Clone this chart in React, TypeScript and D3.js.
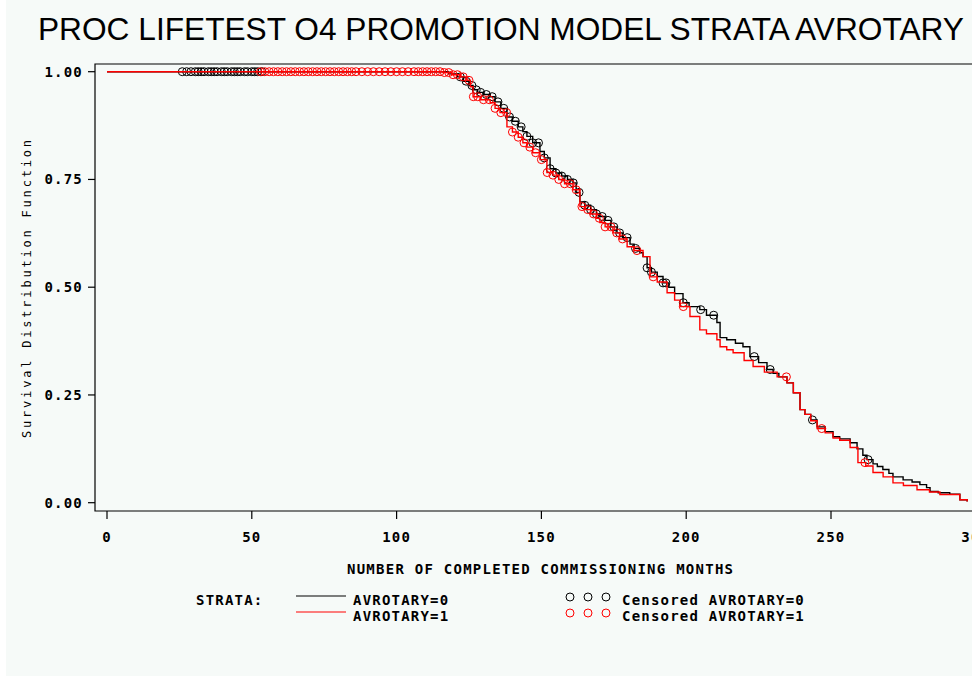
import React from "react";
import * as d3 from "d3";

const TITLE = "PROC LIFETEST O4 PROMOTION MODEL STRATA AVROTARY";
const X_LABEL = "NUMBER OF COMPLETED COMMISSIONING MONTHS";
const Y_LABEL = "Survival Distribution Function";
const X_TICKS = [0, 50, 100, 150, 200, 250, 300];
const Y_TICKS = [0, 0.25, 0.5, 0.75, 1.0];

// Kaplan-Meier step knots (time, survival after step), AVROTARY=0
const blackTimes = [0, 118, 121, 123, 125, 126.4, 128, 130, 132.3, 134, 136, 138.1, 140, 142, 143.6, 145, 147, 149.5, 151, 153, 155, 157, 159, 160.9, 162, 163.3, 165, 167, 169, 170.2, 172, 174, 176.1, 178, 180.6, 182, 184, 185.1, 186.5, 188, 190, 192, 194, 196, 198.9, 201, 204.7, 207, 210.6, 211.7, 214, 217, 219.6, 222, 225, 227.9, 230, 232, 234.8, 237, 239.3, 241, 243, 245.2, 248, 250.7, 253, 256.6, 259, 261, 262.4, 264.5, 266, 267.9, 270, 271.4, 274.9, 278, 280.7, 283, 284.2, 287, 291, 294.5, 297];
const blackSurv = [1.0, 0.995, 0.988, 0.978, 0.968, 0.958, 0.952, 0.947, 0.942, 0.93, 0.915, 0.895, 0.885, 0.872, 0.861, 0.85, 0.835, 0.815, 0.8, 0.775, 0.765, 0.758, 0.75, 0.742, 0.72, 0.698, 0.69, 0.68, 0.67, 0.664, 0.655, 0.64, 0.626, 0.615, 0.6, 0.59, 0.58, 0.571, 0.545, 0.535, 0.525, 0.51, 0.5, 0.485, 0.464, 0.455, 0.448, 0.435, 0.418, 0.383, 0.378, 0.37, 0.362, 0.339, 0.325, 0.309, 0.3, 0.292, 0.278, 0.255, 0.216, 0.205, 0.192, 0.176, 0.165, 0.153, 0.148, 0.139, 0.125, 0.11, 0.1, 0.09, 0.084, 0.077, 0.068, 0.06, 0.053, 0.048, 0.042, 0.035, 0.026, 0.023, 0.02, 0.007, 0.003];

// AVROTARY=1
const redTimes = [0, 116, 119, 122, 124.3, 125.5, 126.4, 129, 132.3, 134, 135.7, 138.1, 140, 142, 143.6, 145, 147, 149.5, 151.9, 154, 156, 158, 160.9, 163.3, 165, 167, 169, 170.2, 172, 174.7, 177, 179.6, 182, 185.1, 187.5, 190, 193.4, 196, 197.9, 201.3, 204.7, 207, 210.6, 211.7, 214, 216.2, 220, 223.1, 227, 231.4, 234.8, 237, 239.3, 241, 243, 245.2, 248, 250.7, 253, 256.6, 259.3, 262, 264.5, 268, 271.4, 275, 279.7, 284, 287.6, 294.5, 297];
const redSurv = [1.0, 0.998, 0.993, 0.988, 0.98, 0.965, 0.942, 0.935, 0.928, 0.915, 0.905, 0.872, 0.86, 0.848, 0.835, 0.825, 0.812, 0.796, 0.766, 0.76, 0.75, 0.74, 0.726, 0.687, 0.68, 0.67, 0.66, 0.65, 0.64, 0.626, 0.612, 0.594, 0.585, 0.571, 0.524, 0.512, 0.487, 0.47, 0.455, 0.432, 0.401, 0.392, 0.378, 0.362, 0.355, 0.348, 0.33, 0.316, 0.303, 0.292, 0.278, 0.255, 0.216, 0.205, 0.19, 0.172, 0.162, 0.15, 0.145, 0.128, 0.093, 0.085, 0.07, 0.06, 0.046, 0.04, 0.03, 0.025, 0.019, 0.007, 0.003];

// Censoring times
const blackCensor = [26, 27.5, 29, 30.5, 31.5, 32.5, 33.5, 35, 36, 37, 38, 39.5, 40.5, 41.5, 43, 44, 45, 46, 47.5, 48.5, 50, 51, 52, 53.5,
  122, 124, 126, 127.5, 129, 131, 133, 135, 137, 139, 141, 143, 145, 147, 149, 151, 153, 155, 157, 159, 161, 163, 165, 167, 169, 171, 173, 175, 177, 179.6, 182.5, 186.5, 188, 192, 193, 199, 205, 209.5, 223.5, 229, 243.6, 262.8];
const redCensor = [53, 54.5, 56, 57.5, 59, 60.5, 62, 63.5, 65, 66.5, 68, 69.5, 71, 72.5, 74, 75.5, 77, 78.5, 80, 81.5, 83, 84.5, 86, 88, 90, 92, 94, 96, 98, 100, 102, 104, 106, 107.5, 109, 110.5, 112, 113.5, 115, 116.5, 118, 119.5,
  121, 123, 125, 126.5, 128, 130, 132, 134, 136, 138, 140, 142, 144, 146, 148, 150, 152, 154, 156, 158, 160, 162, 164, 166, 168, 170, 172, 174, 176, 178, 183, 188.6, 199, 234.6, 246.8, 261.7];

const BG = "#f6faf8";
const MONO = "'DejaVu Sans Mono', 'Liberation Mono', monospace";

function survAt(times: number[], surv: number[], t: number) {
  const i = d3.bisectRight(times, t) - 1;
  return surv[Math.max(0, i)];
}

export default function App() {
  const x = d3.scaleLinear().domain([0, 300]).range([107, 975.8]);
  const y = d3.scaleLinear().domain([0, 1]).range([502.7, 71.7]);
  const line = d3
    .line<[number, number]>()
    .x((d) => x(d[0]))
    .y((d) => y(d[1]))
    .curve(d3.curveStepAfter);
  const blackPts: [number, number][] = blackTimes.map((t, i) => [t, blackSurv[i]]);
  const redPts: [number, number][] = redTimes.map((t, i) => [t, redSurv[i]]);

  const frame = { left: 95, top: 64, right: 990, bottom: 511 };

  return (
    <svg width={972} height={677} style={{ position: "absolute", left: 0, top: 0, display: "block" }}>
      <rect x={0} y={0} width={972} height={677} fill="#ffffff" />
      <rect x={6} y={0} width={966} height={676} fill={BG} />
      <text x={38} y={40} fontFamily="'Liberation Sans Narrow', 'Liberation Sans', Arial, sans-serif" fontSize={31} textLength={926} lengthAdjust="spacingAndGlyphs" fill="#000">
        {TITLE}
      </text>
      {/* frame */}
      <path d={`M${frame.right},${frame.top}H${frame.left}V${frame.bottom}H${frame.right}`} fill="none" stroke="#000" strokeWidth={1.2} />
      {/* y ticks */}
      {Y_TICKS.map((v) => (
        <g key={"y" + v}>
          <line x1={88} x2={95} y1={y(v)} y2={y(v)} stroke="#000" strokeWidth={1.2} />
          <text x={83} y={y(v) + 5} textAnchor="end" fontFamily={MONO} fontWeight="bold" fontSize={14} letterSpacing={1.2} fill="#000">
            {v.toFixed(2)}
          </text>
        </g>
      ))}
      {/* x ticks */}
      {X_TICKS.map((v) => (
        <g key={"x" + v}>
          <line x1={x(v)} x2={x(v)} y1={511} y2={519} stroke="#000" strokeWidth={1.2} />
          <text x={x(v)} y={542} textAnchor="middle" fontFamily={MONO} fontWeight="bold" fontSize={14} letterSpacing={1.2} fill="#000">
            {v}
          </text>
        </g>
      ))}
      <text x={540} y={574} textAnchor="middle" fontFamily={MONO} fontWeight="bold" fontSize={14} textLength={386} lengthAdjust="spacing" fill="#000">
        {X_LABEL}
      </text>
      <text transform={`translate(31,289) rotate(-90)`} textAnchor="middle" fontFamily={MONO} fontSize={12} textLength={298} lengthAdjust="spacing" fill="#000">
        {Y_LABEL}
      </text>
      {/* curves */}
      <path d={line(blackPts) || ""} fill="none" stroke="#000" strokeWidth={1.4} />
      {blackCensor.map((t, i) => (
        <circle key={"bc" + i} cx={x(t)} cy={y(survAt(blackTimes, blackSurv, t))} r={4} fill="none" stroke="#000" strokeWidth={1} />
      ))}
      <path d={line(redPts) || ""} fill="none" stroke="#ff0000" strokeWidth={1.4} />
      {redCensor.map((t, i) => (
        <circle key={"rc" + i} cx={x(t)} cy={y(survAt(redTimes, redSurv, t))} r={4} fill="none" stroke="#ff0000" strokeWidth={1} />
      ))}
      {/* legend */}
      <text x={196} y={605} fontFamily={MONO} fontWeight="bold" fontSize={14} letterSpacing={1.2} fill="#000">STRATA:</text>
      <line x1={296} x2={346} y1={596} y2={596} stroke="#000" strokeWidth={1.2} />
      <line x1={296} x2={346} y1={612} y2={612} stroke="#ff0000" strokeWidth={1.2} />
      <text x={353} y={605} fontFamily={MONO} fontWeight="bold" fontSize={14} letterSpacing={1.2} fill="#000">AVROTARY=0</text>
      <text x={353} y={621} fontFamily={MONO} fontWeight="bold" fontSize={14} letterSpacing={1.2} fill="#000">AVROTARY=1</text>
      {[570, 588, 606].map((cx) => (
        <g key={"lc" + cx}>
          <circle cx={cx} cy={597} r={4} fill="none" stroke="#000" strokeWidth={1} />
          <circle cx={cx} cy={613} r={4} fill="none" stroke="#ff0000" strokeWidth={1} />
        </g>
      ))}
      <text x={622} y={605} fontFamily={MONO} fontWeight="bold" fontSize={14} letterSpacing={1.2} fill="#000">Censored AVROTARY=0</text>
      <text x={622} y={621} fontFamily={MONO} fontWeight="bold" fontSize={14} letterSpacing={1.2} fill="#000">Censored AVROTARY=1</text>
    </svg>
  );
}
